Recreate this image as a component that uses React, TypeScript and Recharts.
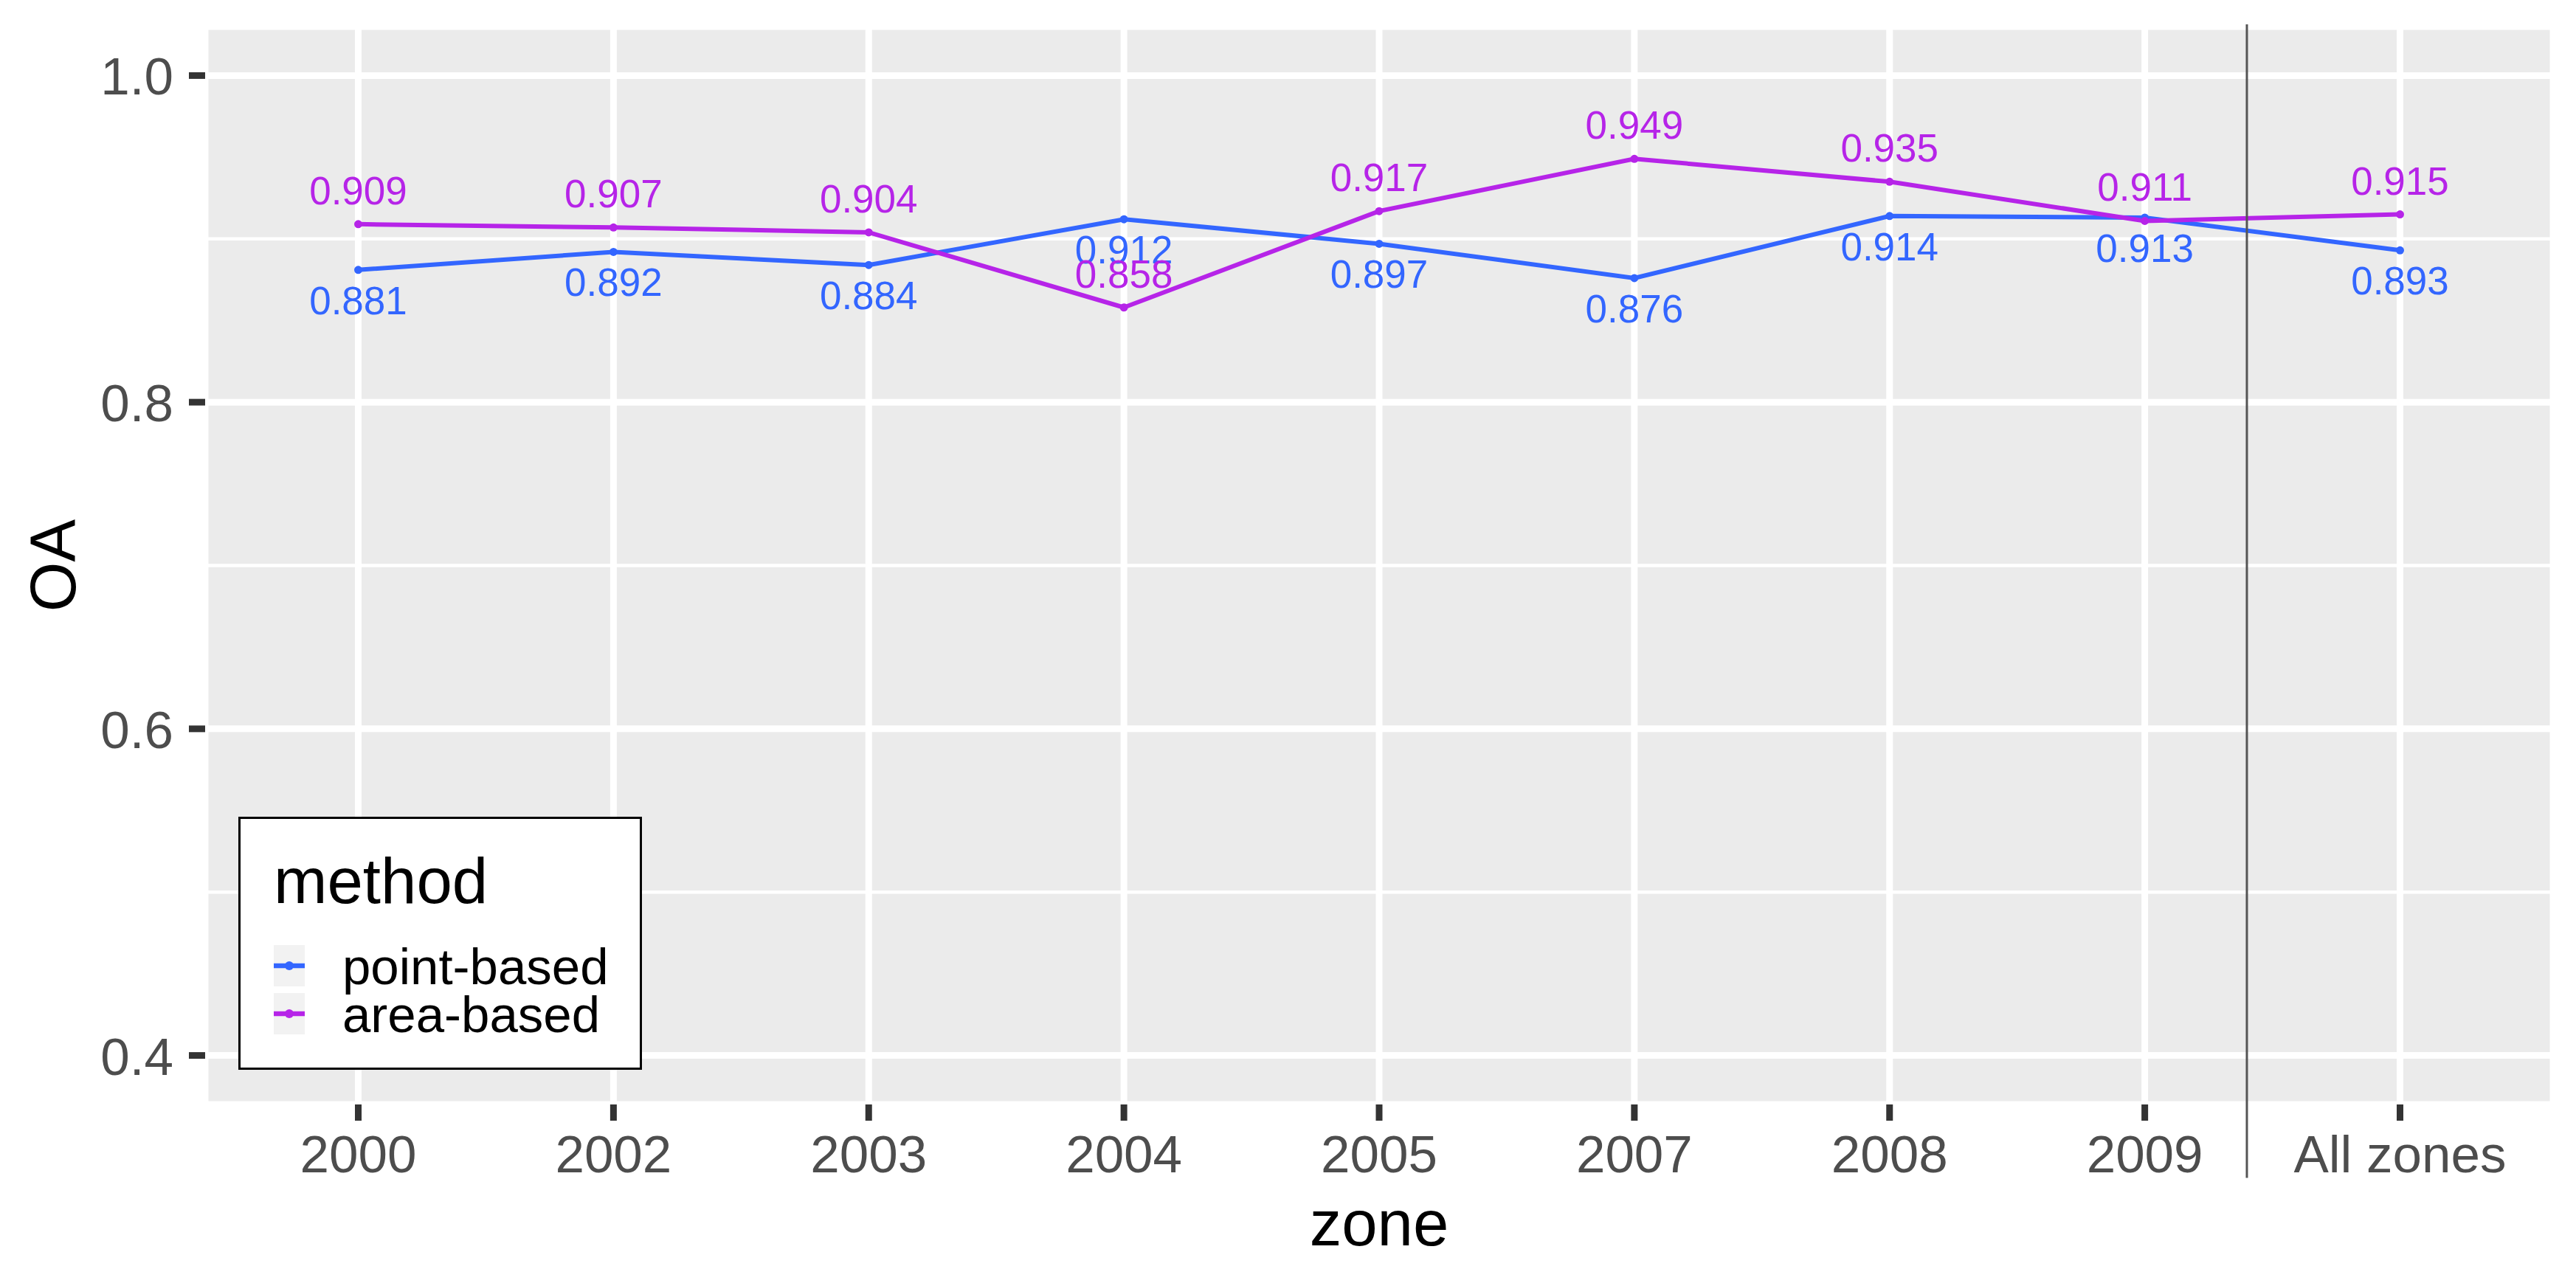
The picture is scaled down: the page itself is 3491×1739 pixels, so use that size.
import React from 'react';
import { LineChart, Line, XAxis, YAxis, CartesianGrid, ReferenceLine, Legend, LabelList } from 'recharts';

const zones = ['2000', '2002', '2003', '2004', '2005', '2007', '2008', '2009', 'All zones'];
const pointBased = [0.881, 0.892, 0.884, 0.912, 0.897, 0.876, 0.914, 0.913, 0.893];
const areaBased = [0.909, 0.907, 0.904, 0.858, 0.917, 0.949, 0.935, 0.911, 0.915];
const yTicks = [0.4, 0.6, 0.8, 1.0];
const yMinorTicks = [0.5, 0.7, 0.9];
const yDomain = [0.37, 1.03];
const separatorAt = 7.4;
const separatorYRange = [1.0314, 0.325];

const seriesNames = ['point-based', 'area-based'];
const seriesColors = ['#3366FF', '#B624E8'];

const data = zones.map((z, i) => ({ zone: z, idx: i, point: pointBased[i], area: areaBased[i] }));

const FONT = '"Liberation Sans", Arial, Helvetica, sans-serif';
const TICK_FS = 71;
const TITLE_FS = 87;

const makeLabel = (color: string, dy: number) => (props: any) => {
  const x = props.x ?? props.viewBox?.x;
  const y = props.y ?? props.viewBox?.y;
  const v = Number(props.value);
  return (
    <text x={x} y={y + dy} fill={color} fontSize={53} textAnchor="middle" fontFamily={FONT}>
      {v.toFixed(3)}
    </text>
  );
};

const XTick = (p: any) => (
  <text x={p.x} y={p.y + 70} textAnchor="middle" fontSize={TICK_FS} fill="#4D4D4D" fontFamily={FONT}>
    {p.payload.value}
  </text>
);

const YTick = (p: any) => (
  <text x={p.x} y={p.y + 26} textAnchor="end" fontSize={TICK_FS} fill="#4D4D4D" fontFamily={FONT}>
    {Number(p.payload.value).toFixed(1)}
  </text>
);

const XTitle = (props: any) => {
  const vb = props.viewBox || { x: 278, y: 1497, width: 3182, height: 242 };
  return (
    <text x={vb.x + vb.width / 2} y={vb.y + 191} textAnchor="middle" fontSize={TITLE_FS} fill="#000" fontFamily={FONT}>
      zone
    </text>
  );
};

const YTitle = (props: any) => {
  const vb = props.viewBox || { x: 0, y: 36, width: 278, height: 1461 };
  const cx = vb.x + 102;
  const cy = vb.y + vb.height / 2;
  return (
    <text x={cx} y={cy} transform={`rotate(-90 ${cx} ${cy})`} textAnchor="middle" fontSize={TITLE_FS} fill="#000" fontFamily={FONT}>
      OA
    </text>
  );
};

const renderLegend = (props: any) => {
  const raw = props.payload || [];
  const payload = [...raw].sort(
    (a: any, b: any) => seriesNames.indexOf(a.value) - seriesNames.indexOf(b.value)
  );
  return (
    <div
      style={{
        width: 547,
        height: 343,
        boxSizing: 'border-box',
        border: '3px solid #000',
        background: '#fff',
      }}
    >
      <svg width={541} height={337} style={{ display: 'block' }}>
        <text x={45} y={114} fontSize={TITLE_FS} fill="#000" fontFamily={FONT}>
          method
        </text>
        {payload.map((entry: any, i: number) => {
          const top = 171 + i * 65;
          const cy = top + 28;
          return (
            <g key={i}>
              <rect x={45} y={top} width={42} height={56} fill="#F2F2F2" />
              <line x1={45} x2={87} y1={cy} y2={cy} stroke={entry.color} strokeWidth={6.5} />
              <circle cx={66} cy={cy} r={6} fill={entry.color} />
              <text x={138} y={top + 53} fontSize={69} fill="#000" fontFamily={FONT}>
                {entry.value}
              </text>
            </g>
          );
        })}
      </svg>
    </div>
  );
};

export default function App() {
  return (
    <div style={{ position: 'absolute', left: 0, top: 0, background: '#fff' }}>
      <LineChart width={3491} height={1739} data={data} margin={{ top: 36, right: 31, bottom: 0, left: 0 }}>
        <CartesianGrid fill="#EBEBEB" stroke="#FFFFFF" strokeWidth={9} />
        {yMinorTicks.map((v) => (
          <ReferenceLine key={'m' + v} y={v} stroke="#FFFFFF" strokeWidth={4.5} />
        ))}
        <XAxis
          dataKey="zone"
          type="category"
          interval={0}
          padding={{ left: 207.5, right: 207.5 }}
          height={242}
          axisLine={false}
          tickSize={22}
          tickMargin={0}
          tickLine={{ stroke: '#333333', strokeWidth: 9 }}
          tick={<XTick />}
          label={XTitle}
        />
        <XAxis
          xAxisId="num"
          dataKey="idx"
          type="number"
          domain={['dataMin', 'dataMax']}
          padding={{ left: 207.5, right: 207.5 }}
          hide
        />
        <YAxis
          type="number"
          domain={yDomain}
          ticks={yTicks}
          allowDataOverflow
          width={278}
          axisLine={false}
          tickSize={22}
          tickMargin={21}
          tickLine={{ stroke: '#333333', strokeWidth: 9 }}
          tick={<YTick />}
          label={YTitle}
        />
        <Line
          dataKey="point"
          name={seriesNames[0]}
          stroke={seriesColors[0]}
          strokeWidth={6}
          dot={{ r: 5.5, fill: seriesColors[0], stroke: 'none' }}
          activeDot={false}
          isAnimationActive={false}
        >
          <LabelList dataKey="point" content={makeLabel(seriesColors[0], 60)} />
        </Line>
        <Line
          dataKey="area"
          name={seriesNames[1]}
          stroke={seriesColors[1]}
          strokeWidth={6}
          dot={{ r: 5.5, fill: seriesColors[1], stroke: 'none' }}
          activeDot={false}
          isAnimationActive={false}
        >
          <LabelList dataKey="area" content={makeLabel(seriesColors[1], -27)} />
        </Line>
        <ReferenceLine
          xAxisId="num"
          segment={[
            { x: separatorAt, y: separatorYRange[0] },
            { x: separatorAt, y: separatorYRange[1] },
          ]}
          ifOverflow="visible"
          stroke="#555555"
          strokeWidth={3}
        />
        <Legend
          layout="horizontal"
          verticalAlign="middle"
          align="center"
          content={renderLegend}
          wrapperStyle={{ position: 'absolute', left: 323, top: 1107, width: 547, height: 343 }}
        />
      </LineChart>
    </div>
  );
}
